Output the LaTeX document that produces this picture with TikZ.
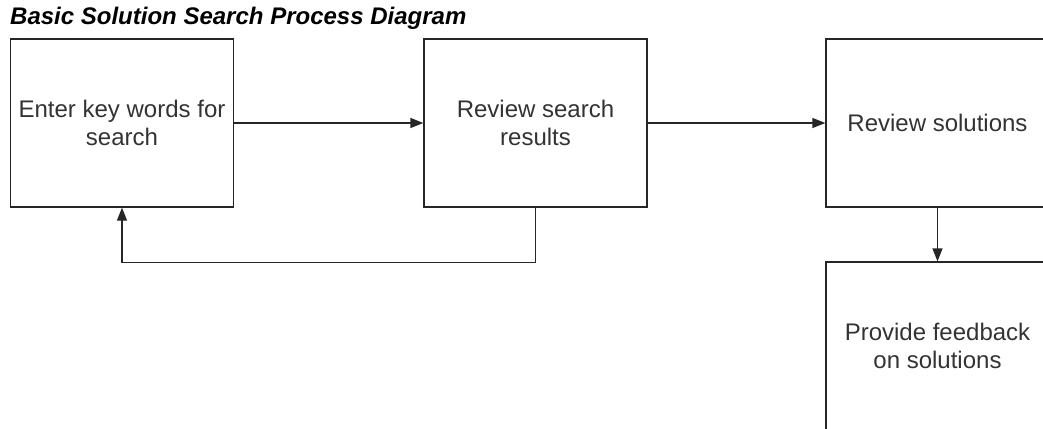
\documentclass[tikz,border=0pt]{standalone}
\usepackage{fontspec}
\setmainfont{Liberation Sans}
\usetikzlibrary{arrows.meta}
\begin{document}
\begin{tikzpicture}[x=1pt,y=-1pt,
  box/.style={draw=black!85, line width=1.3pt, minimum width=223pt, minimum height=168pt,
    inner sep=0pt, align=center, font=\fontsize{24}{28}\selectfont, text=black!80},
  arr/.style={draw=black!85, line width=1.3pt, -{Triangle[length=13pt,width=10pt]}},
  ttl/.style={font=\fontsize{24}{28}\selectfont\bfseries\itshape, inner sep=0pt, anchor=base west}]
\clip (0,0) rectangle (1043,428);
\fill[white] (0,0) rectangle (1043,428);
\node[ttl] (title) at (10,25) {Basic Solution Search Process Diagram};
\node[box] (b1) at (122,123) {Enter key words for\\search};
\node[box] (b2) at (535.5,123) {Review search\\results};
\node[box] (b3) at (937.5,123) {Review solutions};
\node[box] (b4) at (937.5,346) {Provide feedback\\on solutions};
\draw[arr] (b1.east) -- (b2.west);
\draw[arr] (b2.east) -- (b3.west);
\draw[arr] (b3.south) -- (b4.north);
\draw[arr] (b2.south) -- ++(0,55) -| (b1.south);
\end{tikzpicture}
\end{document}
